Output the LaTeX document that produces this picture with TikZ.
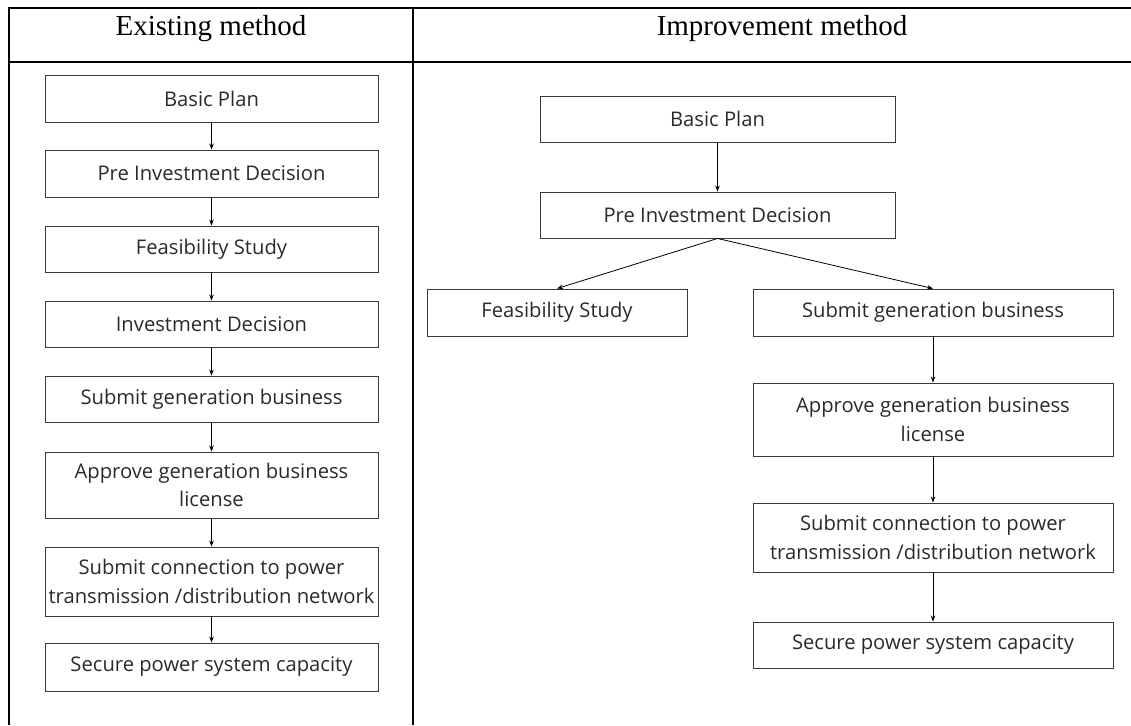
\documentclass[tikz,border=0pt]{standalone}
\usepackage{fontspec}
\setmainfont{Liberation Serif}
\newfontfamily\boxfont{Open Sans}
\usetikzlibrary{arrows.meta}
\definecolor{boxline}{HTML}{3A3A3A}
\definecolor{boxtext}{HTML}{2A2A2A}
\begin{document}
\begin{tikzpicture}[x=1pt,y=-1pt,
  grid/.style={line width=1.5pt,black},
  head/.style={font=\fontsize{29}{32}\selectfont,anchor=base,inner sep=0pt},
  stepbox/.style={draw=boxline,line width=0.9pt,text=boxtext,align=center,
    inner sep=0pt,font=\boxfont\fontsize{20.2}{28.5}\selectfont},
  flow/.style={-{Stealth[length=6pt,width=4.5pt]},line width=0.8pt,black}]
\useasboundingbox (0,0) rectangle (1131,725);

% table frame
\draw[grid] (9,725) -- (9,8) -- (1131,8);
\draw[grid] (9,62) -- (1131,62);
\draw[grid] (413,8) -- (413,725);

% column headings
\node[head] (hL) at (211,36) {Existing method};
\node[head] (hR) at (782,36) {Improvement method};

% existing method: a single chain
\begin{scope}[every node/.style={stepbox,minimum width=333pt}]
\node[minimum height=47pt] (l1) at (211.5,98.5) {Basic Plan};
\node[minimum height=47pt] (l2) at (211.5,173.5) {Pre Investment Decision};
\node[minimum height=46pt] (l3) at (211.5,249) {Feasibility Study};
\node[minimum height=46pt] (l4) at (211.5,324) {Investment Decision};
\node[minimum height=46pt] (l5) at (211.5,399) {Submit generation business};
\node[minimum height=66pt] (l6) at (211.5,485) {Approve generation business\\license};
\node[minimum height=69pt] (l7) at (211.5,581.5) {Submit connection to power\\transmission /distribution network};
\node[minimum height=48pt] (l8) at (211.5,667) {Secure power system capacity};
\end{scope}
\foreach \a/\b in {l1/l2,l2/l3,l3/l4,l4/l5,l5/l6,l6/l7,l7/l8}
  \draw[flow] (\a) -- (\b);

% improvement method: feasibility study runs beside the licensing chain
\node[stepbox,minimum width=355pt,minimum height=46pt] (r1) at (717.5,119) {Basic Plan};
\node[stepbox,minimum width=355pt,minimum height=46pt] (r2) at (717.5,215) {Pre Investment Decision};
\node[stepbox,minimum width=260pt,minimum height=47pt] (rf) at (557,312.5) {Feasibility Study};
\node[stepbox,minimum width=360pt,minimum height=47pt] (r3) at (933,312.5) {Submit generation business};
\node[stepbox,minimum width=360pt,minimum height=73pt] (r4) at (933,419.5) {Approve generation business\\license};
\node[stepbox,minimum width=360pt,minimum height=69pt] (r5) at (933,537.5) {Submit connection to power\\transmission /distribution network};
\node[stepbox,minimum width=360pt,minimum height=46pt] (r6) at (933,645) {Secure power system capacity};

\draw[flow] (r1) -- (r2);
\draw[flow] (r2.south) -- (rf.north);
\draw[flow] (r2.south) -- (r3.north);
\draw[flow] (r3) -- (r4);
\draw[flow] (r4) -- (r5);
\draw[flow] (r5) -- (r6);
\end{tikzpicture}
\end{document}
